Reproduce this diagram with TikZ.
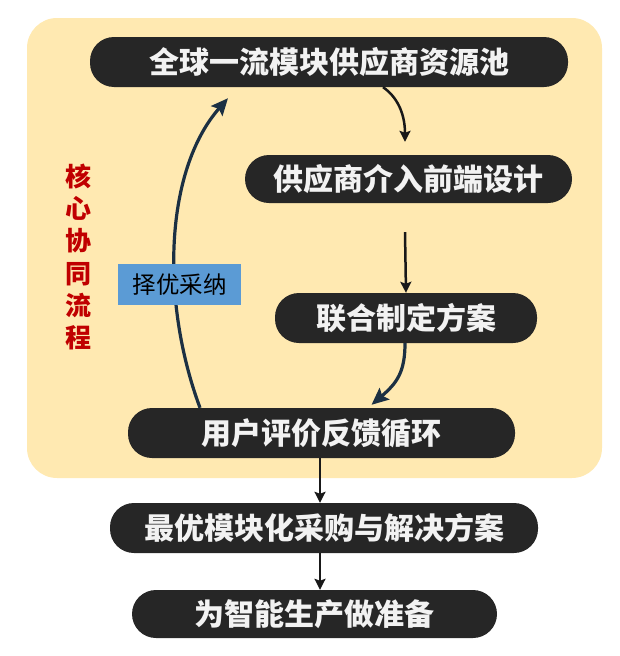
\documentclass[tikz,border=0pt]{standalone}
\usepackage{fontspec}
\newfontfamily\cjk{Noto Sans CJK SC}
\usetikzlibrary{arrows.meta}
\definecolor{bgc}{HTML}{FFE9B1}
\definecolor{pillc}{HTML}{262626}
\definecolor{txtc}{HTML}{F2F2F2}
\definecolor{navy}{HTML}{1C3043}
\definecolor{redc}{HTML}{C00000}
\definecolor{bluec}{HTML}{5B9BD5}
\tikzset{
  pill/.style={fill=pillc, rounded corners=24pt, minimum height=50pt, inner sep=0pt,
    text=txtc, font=\cjk\bfseries\fontsize{30}{32}\selectfont},
  thinarrow/.style={draw=black!90, line width=2.5pt, -{Stealth[length=11pt,width=11pt,inset=2pt]}},
  navyarrow/.style={draw=navy, line width=3.2pt, -{Stealth[length=17pt,width=15pt,inset=3pt]}}
}
\begin{document}
\begin{tikzpicture}[x=1pt,y=-1pt]
\useasboundingbox (0,0) rectangle (620,656);
\fill[bgc, rounded corners=30pt] (27,18) rectangle (602,478);

\node[pill, minimum width=478pt] (n1) at (329,62) {全球一流模块供应商资源池};
\node[pill, minimum width=327pt, minimum height=48pt] (n2) at (408.5,179) {供应商介入前端设计};
\node[pill, minimum width=262pt] (n3) at (406,318) {联合制定方案};
\node[pill, minimum width=387pt] (n4) at (321.5,433) {用户评价反馈循环};
\node[pill, minimum width=428pt] (n5) at (324,528) {最优模块化采购与解决方案};
\node[pill, minimum width=365pt, minimum height=48pt] (n6) at (314.5,614) {为智能生产做准备};

\node[text=redc, font=\cjk\bfseries\fontsize{26}{32.3}\selectfont, align=center, inner sep=0pt] (side) at (78.5,257)
  {核\\心\\协\\同\\流\\程};

% feedback loop
\coordinate (c4a) at ([xshift=-121.5pt]n4.north);
\coordinate (c1a) at ([xshift=-101pt,yshift=-11pt]n1.south);
\draw[navyarrow] (c4a) .. controls (160,300) and (165,170) .. (c1a);

\node[fill=bluec, minimum width=123pt, minimum height=41pt, inner sep=0pt,
  font=\cjk\fontsize{23.5}{26}\selectfont, text=black] (tag) at (179.5,284.5) {择优采纳};

% n1 -> n2
\coordinate (c1b) at ([xshift=54pt]n1.south);
\coordinate (c2a) at ([xshift=-3.5pt,yshift=13pt]n2.north);
\draw[thinarrow] (c1b) .. controls (396,96) and (405,112) .. (c2a);

% n2 -> n3
\coordinate (c2b) at ([xshift=-3.5pt,yshift=-29pt]n2.south);
\draw[thinarrow] (c2b) -- (n3.north);

% n3 -> n4
\coordinate (c3b) at ([xshift=-1pt]n3.south);
\coordinate (c4b) at ([xshift=50pt,yshift=3pt]n4.north);
\draw[navyarrow] (c3b) .. controls (405,372) and (397,383) .. (c4b);

% n4 -> n5 -> n6
\coordinate (c4c) at ([xshift=-1.5pt]n4.south);
\draw[thinarrow] (c4c) -- (c4c |- n5.north);
\coordinate (c5c) at ([xshift=-4pt]n5.south);
\draw[thinarrow] (c5c) -- (c5c |- n6.north);
\end{tikzpicture}
\end{document}
